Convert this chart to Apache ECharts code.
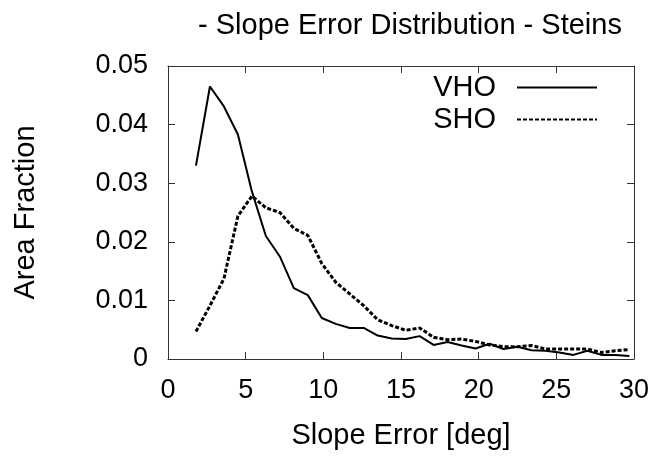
<!DOCTYPE html>
<html>
<head>
<meta charset="utf-8">
<script src="https://cdn.jsdelivr.net/npm/echarts@6.0.0/dist/echarts.min.js"></script>
<style>
html, body { margin: 0; padding: 0; background: #fff; }
#root { width: 658px; height: 457px; }
</style>
</head>
<body>
<div id="root"></div>
<script>
// bin centres in deg
var slopeError = [1.8, 2.7, 3.6, 4.5, 5.4, 6.3, 7.2, 8.1, 9.0, 9.9, 10.8, 11.7, 12.6, 13.5, 14.4, 15.3,
	16.2, 17.1, 18.0, 18.9, 19.8, 20.7, 21.6, 22.5, 23.4, 24.3, 25.2, 26.1, 27.0, 27.9, 28.8, 29.7]

var vho = [0.0330, 0.0465, 0.0431, 0.0383, 0.0286, 0.0210, 0.0175, 0.0121, 0.0109, 0.0070, 0.0060, 0.0053,
	0.0053, 0.0040, 0.0035, 0.0034, 0.0039, 0.0024, 0.0029, 0.0023, 0.0018, 0.0026, 0.0017, 0.0021,
	0.0015, 0.0014, 0.0011, 0.0007, 0.0014, 0.0007, 0.0007, 0.0005]

var sho = [0.0047, 0.0091, 0.0137, 0.0244, 0.0278, 0.0258, 0.0250, 0.0223, 0.0211, 0.0163, 0.0131, 0.0111,
	0.0091, 0.0067, 0.0057, 0.0049, 0.0053, 0.0037, 0.0033, 0.0034, 0.0030, 0.0024, 0.0021, 0.0021,
	0.0023, 0.0017, 0.0017, 0.0017, 0.0017, 0.0011, 0.0014, 0.0016]

var xTicks = [0, 5, 10, 15, 20, 25, 30]
var yTicks = [0, 0.01, 0.02, 0.03, 0.04, 0.05]

var pairs = (ys) => slopeError.map((x, i) => [x, ys[i]])

var font = 'Liberation Sans, Arial, sans-serif'
var frame = { show: true, onZero: false, lineStyle: { color: '#333', width: 1 } }
var tick = { inside: true, length: 7, lineStyle: { color: '#333', width: 1 } }

var chart = echarts.init(document.getElementById('root'))
chart.setOption({
	animation: false,
	backgroundColor: '#fff',
	title: {
		text: '- Slope Error Distribution - Steins',
		left: 405, top: 6, textAlign: 'center',
		textStyle: { fontFamily: font, fontSize: 29, fontWeight: 'normal', color: '#000' }
	},
	legend: {
		orient: 'vertical',
		right: 55, top: 68,
		align: 'right',
		itemWidth: 80, itemHeight: 14, itemGap: 3,
		itemStyle: { opacity: 0 },
		textStyle: { fontFamily: font, fontSize: 29, color: '#000', padding: [0, 16, 0, 0] },
		data: ['VHO', 'SHO']
	},
	grid: { left: 168, right: 24, top: 66, bottom: 98 },
	xAxis: [{
		type: 'value', min: xTicks[0], max: xTicks[xTicks.length - 1], interval: 5,
		name: 'Slope Error [deg]', nameLocation: 'middle', nameGap: 62,
		nameTextStyle: { fontFamily: font, fontSize: 29, color: '#000' },
		axisLine: frame, axisTick: tick, splitLine: { show: false },
		axisLabel: { fontFamily: font, fontSize: 27, color: '#000', margin: 18 }
	}, {
		type: 'value', position: 'top', min: 0, max: 30, interval: 5,
		axisLine: frame, axisTick: tick, splitLine: { show: false }, axisLabel: { show: false }
	}],
	yAxis: [{
		type: 'value', min: yTicks[0], max: yTicks[yTicks.length - 1], interval: 0.01,
		name: 'Area Fraction', nameLocation: 'middle', nameGap: 128, nameRotate: 90,
		nameTextStyle: { fontFamily: font, fontSize: 29, color: '#000' },
		axisLine: frame, axisTick: tick, splitLine: { show: false },
		axisLabel: {
			fontFamily: font, fontSize: 27, color: '#000', margin: 20,
			formatter: v => v === 0 ? '0' : v.toFixed(2)
		}
	}, {
		type: 'value', position: 'right', min: 0, max: 0.05, interval: 0.01,
		axisLine: frame, axisTick: tick, splitLine: { show: false },
		axisLabel: { show: false }
	}],
	series: [{
		name: 'VHO', type: 'line', data: pairs(vho), symbol: 'none',
		lineStyle: { color: '#000', width: 2 }, itemStyle: { color: '#000' }
	}, {
		name: 'SHO', type: 'line', data: pairs(sho), symbol: 'none',
		lineStyle: { color: '#000', width: 3, type: [4, 2] }, itemStyle: { color: '#000' }
	}]
})
</script>
</body>
</html>
